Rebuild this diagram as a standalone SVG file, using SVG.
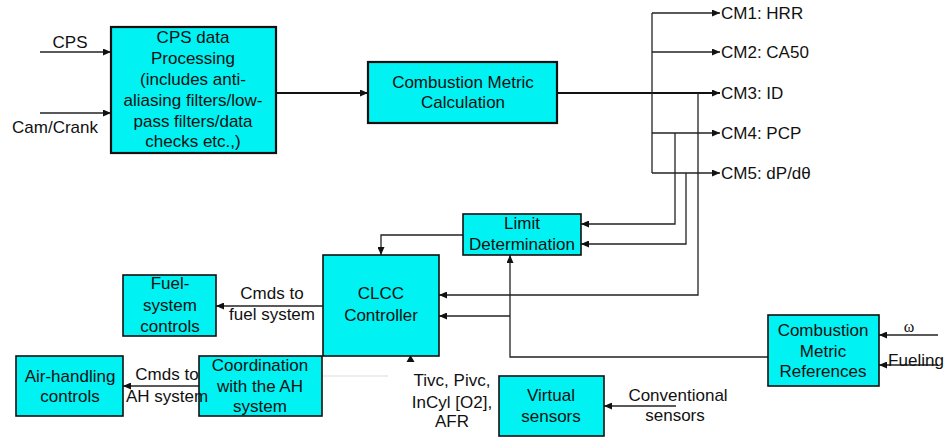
<svg xmlns="http://www.w3.org/2000/svg" width="945" height="437" viewBox="0 0 945 437">
  <style>
    .box { fill: #00F2F2; stroke: #111; stroke-width: 1.6; }
    .box-heavy { fill: #00F2F2; stroke: #111; stroke-width: 2.2; }
    text { font-family: "Liberation Sans", Arial, sans-serif; font-size: 17px; fill: #111; }
    .c { text-anchor: middle; }
    .wire { fill: none; stroke: #222; stroke-width: 1.3; }
    .bus { fill: none; stroke: #111; stroke-width: 2.2; }
    .faint { fill: none; stroke: #ddd; stroke-width: 1; }
  </style>
  <defs>
    <marker id="arrow" viewBox="0 0 8 7" refX="8" refY="3.5" markerWidth="8" markerHeight="7" markerUnits="userSpaceOnUse" orient="auto">
      <path d="M0,0 L8,3.5 L0,7 z" fill="#111"/>
    </marker>
  </defs>
  <rect width="945" height="437" fill="#fff"/>

  <g id="connectors">
    <path class="wire" d="M40,52 H111" marker-end="url(#arrow)"/>
    <path class="wire" d="M40,113 H111" marker-end="url(#arrow)"/>
    <path class="bus" d="M276,93 H368" marker-end="url(#arrow)"/>
    <path class="bus" d="M557,93 H720" marker-end="url(#arrow)"/>
    <path class="wire" d="M652,13 V173"/>
    <path class="wire" d="M652,13 H720" marker-end="url(#arrow)"/>
    <path class="wire" d="M652,52 H720" marker-end="url(#arrow)"/>
    <path class="wire" d="M652,133 H720" marker-end="url(#arrow)"/>
    <path class="wire" d="M652,173 H720" marker-end="url(#arrow)"/>
    <path class="wire" d="M675,133 V224 H581" marker-end="url(#arrow)"/>
    <path class="wire" d="M686,173 V244 H581" marker-end="url(#arrow)"/>
    <path class="wire" d="M698,93 V295 H439" marker-end="url(#arrow)"/>
    <path class="wire" d="M463,235 H381 V255" marker-end="url(#arrow)"/>
    <path class="wire" d="M768,357 H510 V255" marker-end="url(#arrow)"/>
    <path class="wire" d="M510,316 H439" marker-end="url(#arrow)"/>
    <path class="wire" d="M323,306 H216" marker-end="url(#arrow)"/>
    <path class="wire" d="M199,386 H123" marker-end="url(#arrow)"/>
    <path class="faint" d="M388,376 H306" marker-end="url(#arrow)"/>
    <path d="M406.5,362 L410.5,355 L414.5,362 z" fill="#111"/>
    <path class="wire" d="M676,406 H604" marker-end="url(#arrow)"/>
    <path class="wire" d="M938,335 H879" marker-end="url(#arrow)"/>
    <path class="wire" d="M938,365 H879" marker-end="url(#arrow)"/>
  </g>

  <g id="input-labels">
    <text x="70" y="48" class="c">CPS</text>
    <text x="55" y="133" class="c">Cam/Crank</text>
  </g>

  <g id="cps-processing">
    <rect class="box-heavy" x="111" y="27" width="165" height="126"/>
    <text class="c" x="193" y="43">CPS data</text>
    <text class="c" x="193" y="64">Processing</text>
    <text class="c" x="193" y="85">(includes anti-</text>
    <text class="c" x="193" y="106">aliasing filters/low-</text>
    <text class="c" x="193" y="127">pass filters/data</text>
    <text class="c" x="193" y="147">checks etc.,)</text>
  </g>

  <g id="metric-calculation">
    <rect class="box-heavy" x="368" y="62" width="189" height="61"/>
    <text class="c" x="463" y="88">Combustion Metric</text>
    <text class="c" x="463" y="108">Calculation</text>
  </g>

  <g id="metric-outputs">
    <text x="721" y="19">CM1: HRR</text>
    <text x="721" y="58">CM2: CA50</text>
    <text x="721" y="99">CM3: ID</text>
    <text x="721" y="139">CM4: PCP</text>
    <text x="721" y="179">CM5: dP/dθ</text>
  </g>

  <g id="limit-determination">
    <rect class="box" x="463" y="214" width="118" height="41"/>
    <text class="c" x="522" y="229">Limit</text>
    <text class="c" x="522" y="250">Determination</text>
  </g>

  <g id="clcc-controller">
    <rect class="box" x="323" y="255" width="116" height="101"/>
    <text class="c" x="381" y="299">CLCC</text>
    <text class="c" x="381" y="321">Controller</text>
  </g>

  <g id="fuel-system-controls">
    <rect class="box" x="123" y="275" width="93" height="61"/>
    <text class="c" x="170" y="289">Fuel-</text>
    <text class="c" x="170" y="311">system</text>
    <text class="c" x="170" y="332">controls</text>
  </g>
  <g id="fuel-cmd-label">
    <text class="c" x="272" y="299">Cmds to</text>
    <text class="c" x="272" y="320">fuel system</text>
  </g>

  <g id="coordination-ah">
    <rect class="box" x="199" y="356" width="123" height="60"/>
    <text class="c" x="260" y="371">Coordination</text>
    <text class="c" x="260" y="392">with the AH</text>
    <text class="c" x="260" y="412">system</text>
  </g>

  <g id="air-handling-controls">
    <rect class="box" x="16" y="356" width="107" height="60"/>
    <text class="c" x="70" y="382">Air-handling</text>
    <text class="c" x="70" y="402">controls</text>
  </g>
  <g id="ah-cmd-label">
    <text class="c" x="167" y="380">Cmds to</text>
    <text class="c" x="167" y="402">AH system</text>
  </g>

  <g id="measured-signals">
    <text class="c" x="452" y="386">Tivc, Pivc,</text>
    <text class="c" x="452" y="408">InCyl [O2],</text>
    <text class="c" x="452" y="427">AFR</text>
  </g>

  <g id="virtual-sensors">
    <rect class="box" x="499" y="376" width="105" height="60"/>
    <text class="c" x="551" y="401">Virtual</text>
    <text class="c" x="551" y="422">sensors</text>
  </g>
  <g id="conventional-sensors">
    <text class="c" x="678" y="401">Conventional</text>
    <text class="c" x="675" y="421">sensors</text>
  </g>

  <g id="metric-references">
    <rect class="box" x="768" y="315" width="111" height="71"/>
    <text class="c" x="823" y="336">Combustion</text>
    <text class="c" x="823" y="357">Metric</text>
    <text class="c" x="823" y="377">References</text>
  </g>
  <g id="reference-inputs">
    <text class="c" x="909" y="332" style="font-family:'Liberation Serif', serif; font-size:16px;">ω</text>
    <text class="c" x="916" y="366">Fueling</text>
  </g>
</svg>
